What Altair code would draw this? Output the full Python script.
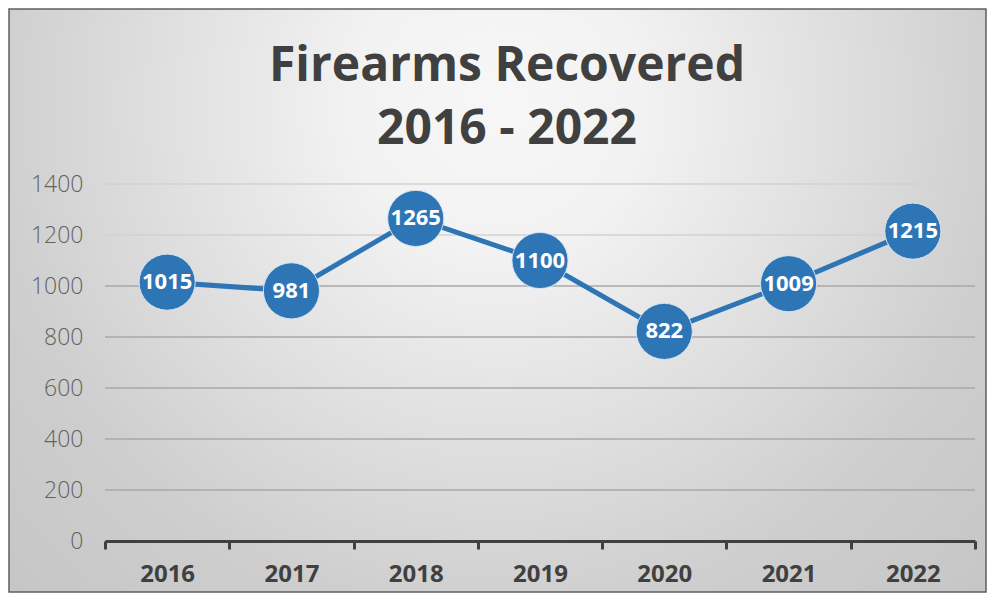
import altair as alt
import pandas as pd

years = ["2016", "2017", "2018", "2019", "2020", "2021", "2022"]
recovered = [1015, 981, 1265, 1100, 822, 1009, 1215]
y_ticks = [0, 200, 400, 600, 800, 1000, 1200, 1400]
title_lines = ["Firearms Recovered", "2016 - 2022"]

df = pd.DataFrame({"year": years, "value": recovered})
grid_df = pd.DataFrame({"value": y_ticks})

W, H = 870, 357
PAD = {"left": 97, "top": 176, "right": 12, "bottom": 52}
BLUE = "#2e75b6"
FONT = "Open Sans"

x_enc = alt.X(
    "year:N",
    sort=years,
    scale=alt.Scale(type="band", paddingInner=0, paddingOuter=0),
    axis=alt.Axis(
        title=None, labelAngle=0, labelFont=FONT, labelFontWeight="bold",
        labelFontSize=24, labelColor="#404040", domainColor="#404040",
        domainWidth=3, tickColor="#404040", tickWidth=3, tickSize=8,
        tickBand="extent", labelPadding=13, grid=False, zindex=1,
    ),
)
y_enc = alt.Y(
    "value:Q",
    scale=alt.Scale(domain=[0, 1400]),
    axis=alt.Axis(
        values=y_ticks, format="d", title=None, domain=False, ticks=False, grid=False,
        labelFont=FONT, labelFontSize=23, labelFontWeight=300,
        labelColor="#626262", labelPadding=22, zindex=1,
    ),
)

bg = alt.Chart(alt.Data(values=[{"k": 1}])).mark_rect(
    fill=alt.Gradient(
        gradient="radial",
        stops=[
            alt.GradientStop(color="#f7f7f7", offset=0),
            alt.GradientStop(color="#f2f2f2", offset=0.2),
            alt.GradientStop(color="#cecece", offset=0.7),
            alt.GradientStop(color="#c4c4c4", offset=1),
        ],
        x1=0.5, y1=0.3, x2=0.5, y2=0.3, r1=0, r2=0.75,
    ),
    stroke="#5f5f5f",
    strokeWidth=1.5,
).encode(
    x=alt.value(-PAD["left"] + 1),
    x2=alt.value(W + PAD["right"] - 1),
    y=alt.value(-PAD["top"] + 1),
    y2=alt.value(H + PAD["bottom"] - 1),
)

grid = alt.Chart(grid_df).mark_rule(strokeWidth=1.5).encode(
    y=y_enc,
    color=alt.condition("datum.value >= 1100", alt.value("#d2d2d2"), alt.value("#a9a9a9")),
)

base = alt.Chart(df).encode(x=x_enc, y=y_enc)
line = base.mark_line(color=BLUE, strokeWidth=5)
points = base.mark_circle(size=3150, color=BLUE, opacity=1, stroke="#d3e3f3", strokeWidth=1)
labels = base.mark_text(color="white", font=FONT, fontWeight="bold", fontSize=22).encode(
    text="value:Q"
)

chart = (
    alt.layer(bg, grid, line, points, labels)
    .properties(
        width=W,
        height=H,
        padding=PAD,
        autosize="none",
        title=alt.Title(
            title_lines, font=FONT, fontSize=48, fontWeight="bold", color="#404040",
            lineHeight=63, anchor="middle", dx=-33, offset=-146,
        ),
    )
    .configure_view(stroke=None)
    .configure(background="#ffffff")
)

chart.save("out.html", embed_options={"renderer": "svg", "actions": False})
